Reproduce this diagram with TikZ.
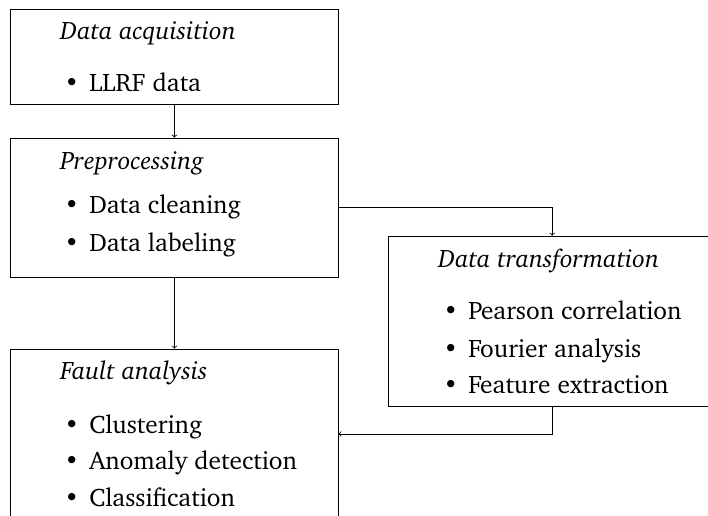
\documentclass[tikz,border=0pt]{standalone}
\usepackage[T1]{fontenc}
\usepackage{charter}
\begin{document}
\begin{tikzpicture}[x=0.75pt,y=-0.75pt,
  box/.style={draw,line width=0.6pt,minimum width=327.3*0.75pt,inner sep=0pt,rectangle},
  txt/.style={anchor=base west,inner sep=0pt,font=\fontsize{19}{22}\selectfont},
  ttl/.style={txt,font=\fontsize{19}{22}\selectfont\itshape},
  conn/.style={draw,line width=0.6pt,->}]
\clip (0,0) rectangle (708,516);
\node[box,minimum height=95*0.75pt] (b1) at (174.4,56.5) {};
\node[box,minimum height=139*0.75pt] (b2) at (174.4,207.5) {};
\node[box,minimum height=170.7*0.75pt] (b3) at (552.2,321.4) {};
\node[box,minimum height=170*0.75pt] (b4) at (174.4,434) {};
% box 1
\node[ttl] (t1) at (60,40) {Data acquisition};
\node[txt] (d1a) at (64,92) {\textbullet};
\node[txt] (i1a) at (89,92) {LLRF data};
% box 2
\node[ttl] (t2) at (60,170) {Preprocessing};
\node[txt] (d2a) at (64,214) {\textbullet};
\node[txt] (i2a) at (89,214) {Data cleaning};
\node[txt] (d2b) at (64,252) {\textbullet};
\node[txt] (i2b) at (89,252) {Data labeling};
% box 3
\node[ttl] (t3) at (438,267.7) {Data transformation};
\node[txt] (d3a) at (443,320) {\textbullet};
\node[txt] (i3a) at (468,320) {Pearson correlation};
\node[txt] (d3b) at (443,357.7) {\textbullet};
\node[txt] (i3b) at (468,357.7) {Fourier analysis};
\node[txt] (d3c) at (443,394) {\textbullet};
\node[txt] (i3c) at (468,394) {Feature extraction};
% box 4
\node[ttl] (t4) at (60,380) {Fault analysis};
\node[txt] (d4a) at (64,434) {\textbullet};
\node[txt] (i4a) at (89,434) {Clustering};
\node[txt] (d4b) at (64,470) {\textbullet};
\node[txt] (i4b) at (89,470) {Anomaly detection};
\node[txt] (d4c) at (64,507) {\textbullet};
\node[txt] (i4c) at (89,507) {Classification};
% connectors
\draw[conn] (b1) -- (b2);
\draw[conn] (b2.east) -| (b3.north);
\draw[conn] (b3.south) |- (b4.east);
\draw[conn] (b2) -- (b4);
\end{tikzpicture}
\end{document}
